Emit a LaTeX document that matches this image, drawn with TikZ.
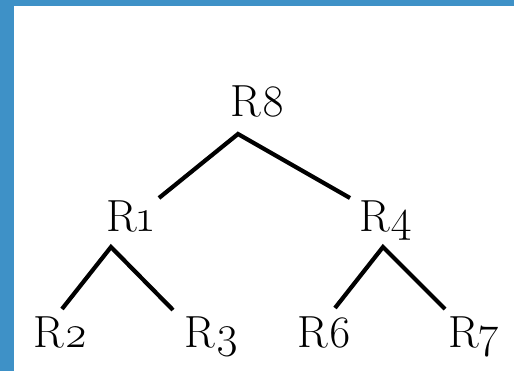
\documentclass[tikz,border=0pt]{standalone}
\usepackage{fontspec}
\setmainfont{Latin Modern Roman}[Numbers=OldStyle]
\definecolor{frameblue}{HTML}{3E91C7}
\tikzset{
  lbl/.style={anchor=base, inner sep=0pt, font=\fontsize{45}{50}\selectfont},
  edge/.style={line width=4.2pt, black}
}
\begin{document}
\begin{tikzpicture}[x=1pt,y=-1pt]
\useasboundingbox (0,0) rectangle (514,371);
\fill[white] (0,0) rectangle (514,371);
\fill[frameblue] (0,0) rectangle (514,6);
\fill[frameblue] (0,0) rectangle (13.5,371);
% labels
\node[lbl] (r8) at (258,117) {R8};
\node[lbl] (r1) at (130,232) {R1};
\node[lbl] (r4) at (386,232) {R4};
\node[lbl] (r2) at (61,348) {R2};
\node[lbl] (r3) at (212,348) {R3};
\node[lbl] (r6) at (325,348) {R6};
\node[lbl] (r7) at (474,348) {R7};
% connector points
\coordinate (a8) at (238,134);
\coordinate (t1) at (159,198);
\coordinate (t4) at (350,198);
\coordinate (a1) at (111,247);
\coordinate (t2) at (62,309);
\coordinate (t3) at (173,310);
\coordinate (a4) at (383,247);
\coordinate (t6) at (335,308);
\coordinate (t7) at (445,309);
\draw[edge] (t1) -- (a8) -- (t4);
\draw[edge] (t2) -- (a1) -- (t3);
\draw[edge] (t6) -- (a4) -- (t7);
\end{tikzpicture}
\end{document}
